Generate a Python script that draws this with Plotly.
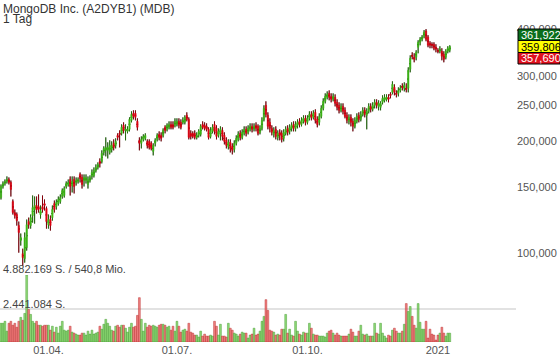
import pandas as pd
import plotly.graph_objects as go

# ---------------- data (EUR, daily, 27.02.2020 - 11.01.2021) ----------------
opens = [
    140.8,150.8,153.6,155.6,157.5,154.6,137.3,128.3,126.7,118.3,
    107.8,99.4,96.4,103.2,121.3,118.3,125.9,130.7,134.0,133.1,
    126.7,133.1,135.6,131.5,119.0,122.8,124.3,135.6,133.1,135.6,
    137.3,141.7,142.6,150.8,152.7,157.5,151.7,157.5,154.6,155.6,
    162.5,159.5,156.5,156.5,152.7,156.5,160.5,161.5,166.6,169.7,
    176.2,176.2,186.3,188.7,188.7,186.3,189.8,197.1,194.6,207.1,
    209.7,209.7,220.4,213.6,212.3,215.0,227.3,237.4,237.4,225.9,
    200.8,197.1,202.0,203.3,199.5,199.5,197.1,187.5,197.1,202.0,
    208.4,207.1,207.1,217.7,215.0,217.7,221.7,221.7,220.4,221.7,
    225.9,224.5,224.5,224.5,234.5,228.7,209.7,209.7,209.7,204.5,
    207.1,208.4,221.7,220.4,219.0,215.0,205.8,212.3,221.7,216.3,
    207.1,209.7,213.6,207.1,200.8,193.4,198.3,193.4,189.8,197.1,
    202.0,209.7,204.5,209.7,215.0,211.0,215.0,219.0,215.0,220.4,
    219.0,211.0,216.3,228.7,249.5,234.5,224.5,216.3,208.4,215.0,
    204.5,211.0,209.7,203.3,209.7,216.3,212.3,216.3,221.7,216.3,
    220.4,225.9,221.7,225.9,230.2,224.5,230.2,235.9,231.6,238.9,
    228.7,224.5,233.0,244.9,255.8,262.2,268.8,263.8,259.0,262.2,
    254.2,249.5,241.9,247.9,241.9,234.5,225.9,231.6,225.9,219.0,
    225.9,234.5,228.7,235.9,241.9,234.5,240.4,247.9,243.4,249.5,
    254.2,247.9,246.4,254.2,257.4,259.0,262.2,267.1,270.5,279.0,
    268.8,268.8,273.8,280.7,277.3,277.3,277.3,312.0,340.4,336.2,
    336.2,357.8,369.0,376.0,383.0,395.5,380.9,366.8,364.5,364.5,
    357.8,351.2,349.0,349.0,342.5,336.2,349.0,351.2,
]
highs = [
    152.7,155.6,157.5,160.5,159.5,156.5,139.1,130.7,128.3,121.3,
    112.6,102.5,113.3,122.8,124.3,126.7,142.6,141.7,141.7,143.5,
    134.0,142.6,139.1,133.1,126.7,125.9,134.0,138.2,139.1,141.7,
    143.5,148.9,150.8,155.6,157.5,160.5,160.5,160.5,159.5,159.5,
    164.5,162.5,162.5,162.5,160.5,161.5,167.6,169.7,172.9,175.1,
    179.5,188.7,193.4,204.5,198.3,200.8,199.5,202.0,203.3,209.7,
    213.6,221.7,224.5,221.7,219.0,231.6,240.4,241.9,241.9,230.2,
    204.5,205.8,208.4,209.7,202.0,202.0,199.5,197.1,203.3,209.7,
    212.3,211.0,216.3,220.4,223.1,225.9,225.9,225.9,230.2,230.2,
    230.2,228.7,231.6,234.5,238.9,231.6,213.6,212.3,213.6,211.0,
    215.0,221.7,225.9,224.5,223.1,217.7,217.7,221.7,225.9,220.4,
    216.3,219.0,217.7,211.0,204.5,202.0,202.0,197.1,200.8,207.1,
    212.3,213.6,215.0,219.0,219.0,220.4,223.1,223.1,223.1,224.5,
    221.7,220.4,231.6,249.5,255.8,238.9,230.2,220.4,217.7,219.0,
    213.6,215.0,213.6,215.0,219.0,220.4,221.7,224.5,225.9,225.9,
    228.7,230.2,231.6,234.5,234.5,234.5,240.4,240.4,241.9,243.4,
    233.0,237.4,249.5,260.6,268.8,272.1,273.8,268.8,268.8,267.1,
    259.0,254.2,252.6,252.6,246.4,238.9,235.9,235.9,230.2,231.6,
    237.4,238.9,240.4,246.4,246.4,244.9,252.6,252.6,254.2,259.0,
    259.0,257.4,255.8,265.5,267.1,267.1,267.1,270.5,289.6,284.2,
    273.8,279.0,282.5,286.0,287.8,286.0,315.9,340.4,346.8,344.7,
    351.2,373.7,380.9,385.7,398.0,400.4,385.7,371.4,369.0,369.0,
    364.5,355.6,360.0,355.6,349.0,353.4,360.0,362.2,
]
lows = [
    139.1,148.9,151.7,153.6,152.7,141.7,126.7,123.6,118.3,100.0,
    104.5,92.2,94.0,101.3,116.1,116.1,120.5,119.8,127.5,128.3,
    123.6,128.3,129.9,116.1,116.1,114.7,122.0,128.3,130.7,134.0,
    135.6,139.9,140.8,148.9,150.8,142.6,145.3,144.4,151.7,153.6,
    154.6,148.9,150.8,153.6,148.9,154.6,157.5,159.5,164.5,167.6,
    169.7,174.0,182.9,181.8,179.5,184.0,186.3,188.7,191.0,200.8,
    192.2,207.1,209.7,200.8,209.7,212.3,224.5,228.7,227.3,213.6,
    188.7,191.0,199.5,200.8,191.0,189.8,188.7,182.9,193.4,199.5,
    200.8,199.5,204.5,209.7,212.3,215.0,215.0,215.0,217.7,219.0,
    216.3,215.0,221.7,221.7,225.9,202.0,202.0,203.3,202.0,202.0,
    204.5,205.8,215.0,213.6,212.3,202.0,203.3,209.7,208.4,202.0,
    204.5,200.8,200.8,195.8,191.0,189.8,186.3,184.0,186.3,194.6,
    199.5,200.8,202.0,207.1,205.8,208.4,212.3,211.0,212.3,212.3,
    207.1,208.4,213.6,225.9,231.6,215.0,211.0,207.1,204.5,202.0,
    200.8,200.8,198.3,199.5,207.1,207.1,208.4,212.3,212.3,212.3,
    216.3,217.7,219.0,223.1,220.4,221.7,227.3,227.3,228.7,223.1,
    217.7,220.4,230.2,241.9,252.6,259.0,257.4,254.2,255.8,247.9,
    241.9,237.4,238.9,235.9,230.2,223.1,221.7,219.0,212.3,216.3,
    223.1,224.5,225.9,233.0,231.6,215.0,237.4,238.9,240.4,244.9,
    244.9,241.9,241.9,251.0,254.2,255.8,254.2,260.6,267.1,265.5,
    262.2,263.8,270.5,273.8,272.1,270.5,270.5,306.3,332.0,325.9,
    330.0,344.7,362.2,371.4,378.5,371.4,357.8,355.6,355.6,351.2,
    346.8,344.7,344.7,330.0,325.9,332.0,344.7,346.8,
]
closes = [
    150.8,153.6,155.6,157.5,154.6,148.0,128.3,125.9,122.0,113.3,
    109.8,97.0,109.8,119.0,119.0,124.3,132.3,134.0,130.7,130.7,
    129.9,130.7,134.0,121.3,122.8,118.3,130.7,130.7,136.5,139.1,
    140.8,147.1,148.9,153.6,154.6,150.8,155.6,150.8,156.5,157.5,
    158.5,152.7,159.5,159.5,157.5,159.5,164.5,166.6,169.7,172.9,
    174.0,185.2,191.0,192.2,192.2,194.6,194.6,192.2,199.5,204.5,
    208.4,217.7,213.6,215.0,215.0,228.7,235.9,233.0,231.6,217.7,
    197.1,202.0,205.8,207.1,194.6,192.2,191.0,194.6,200.8,207.1,
    204.5,203.3,213.6,213.6,220.4,221.7,217.7,217.7,225.9,225.9,
    220.4,217.7,227.3,231.6,228.7,204.5,205.8,205.8,204.5,207.1,
    212.3,219.0,217.7,216.3,215.0,204.5,213.6,217.7,212.3,205.8,
    212.3,215.0,205.8,199.5,194.6,198.3,191.0,188.7,197.1,203.3,
    208.4,204.5,211.0,215.0,209.7,216.3,219.0,215.0,219.0,216.3,
    209.7,216.3,227.3,244.9,235.9,219.0,216.3,211.0,213.6,205.8,
    209.7,207.1,202.0,211.0,215.0,211.0,217.7,220.4,216.3,221.7,
    224.5,221.7,227.3,230.2,224.5,230.2,235.9,231.6,237.4,227.3,
    221.7,233.0,244.9,255.8,263.8,267.1,262.2,259.0,263.8,252.6,
    246.4,241.9,247.9,240.4,233.0,227.3,231.6,224.5,219.0,227.3,
    233.0,228.7,235.9,241.9,235.9,240.4,247.9,243.4,249.5,254.2,
    249.5,252.6,252.6,260.6,262.2,262.2,259.0,265.5,284.2,270.5,
    267.1,273.8,277.3,279.0,282.5,275.5,310.1,334.1,338.3,332.0,
    346.8,369.0,376.0,380.9,393.0,376.0,362.2,362.2,362.2,355.6,
    353.4,349.0,353.4,338.3,332.0,349.0,355.6,359.806,
]
# volume in thousands of shares
volume_k = [
    1364,1364,1508,790,1364,1508,1221,1364,1077,1508,
    1795,1580,2082,4882,2369,2010,1508,1364,1508,1221,
    1221,1149,1221,1221,1221,862,1149,718,1077,646,
    1149,1508,862,790,862,1149,718,646,574,503,
    503,646,646,503,790,574,862,574,646,718,
    1149,933,1292,1651,1364,1149,862,790,1149,1221,
    1077,1221,1221,1005,718,1077,1364,1077,1149,1939,
    3231,1651,790,1364,1077,1221,1149,1221,1149,1077,
    1221,1292,1292,1221,1077,1149,862,1149,790,1508,
    1149,718,862,933,790,1364,718,646,503,503,
    359,790,431,574,431,431,503,431,1508,1149,
    503,1292,431,431,359,1364,1005,862,646,574,
    431,574,718,646,646,287,503,574,1005,503,
    574,790,1508,1867,3087,2298,862,790,718,503,
    574,503,933,933,2010,646,933,503,431,1508,
    790,574,503,718,646,646,1364,1005,574,503,
    503,431,431,431,359,646,790,862,646,503,
    646,503,431,431,431,431,574,933,718,431,
    431,790,1221,574,503,574,431,431,431,1364,
    646,574,1364,646,431,287,503,431,862,1005,
    790,646,646,790,1292,2800,2226,2585,1867,1221,
    1005,2800,1436,933,933,1508,287,933,574,503,
    144,503,646,1077,646,431,646,646,
]
dates = pd.bdate_range("2020-02-27", "2021-01-11") + pd.Timedelta(hours=12)
n = min(len(dates), len(opens))
dates = dates[:n]

tick_dates = ["2020-04-01 12:00", "2020-07-01 12:00", "2020-10-01 12:00", "2021-01-01 12:00"]
tick_text = ["01.04.", "01.07.", "01.10.", "2021"]
price_ticks = [100, 150, 200, 250, 300, 400]
vol_max_k = 4882.169
vol_half_k = 2441.084
badge_values = ["361,922", "359,806", "357,690"]

title = "MongoDB Inc. (A2DYB1) (MDB)"
subtitle = "1 Tag"
vol_label_top = "4.882.169 S. / 540,8 Mio."
vol_label_mid = "2.441.084 S."

# ---------------- figure ----------------
GREEN = "#3cb815"
RED = "#e00010"
O, Hh, L, C = opens[:n], highs[:n], lows[:n], closes[:n]
up = [c >= o for o, c in zip(O, C)]
bar_fill = ["rgba(115,208,85,0.78)" if u else "rgba(236,100,100,0.8)" for u in up]
bar_line = ["rgba(60,150,40,0.9)" if u else "rgba(185,40,40,0.9)" for u in up]
mids = [(o + c) / 2 for o, c in zip(O, C)]

fig = go.Figure()
fig.add_trace(go.Bar(
    x=dates, y=volume_k[:n], yaxis="y2", xaxis="x",
    marker=dict(color=bar_fill, line=dict(color=bar_line, width=0.5)),
    showlegend=False, hoverinfo="skip",
))
# wicks (black), drawn first
fig.add_trace(go.Candlestick(
    x=dates, open=mids, high=Hh, low=L, close=mids,
    increasing=dict(fillcolor="#000000", line=dict(color="#000000", width=1)),
    decreasing=dict(fillcolor="#000000", line=dict(color="#000000", width=1)),
    whiskerwidth=0, showlegend=False, hoverinfo="skip",
))
# coloured bodies on top
fig.add_trace(go.Candlestick(
    x=dates, open=O, high=Hh, low=L, close=C,
    increasing=dict(fillcolor=GREEN, line=dict(color=GREEN, width=0.6)),
    decreasing=dict(fillcolor=RED, line=dict(color=RED, width=0.6)),
    whiskerwidth=0, showlegend=False, hoverinfo="skip",
))

Hp = 342.0  # plot area height in px
fig.update_layout(
    width=560, height=363,
    margin=dict(l=0, r=44, t=0, b=21),
    paper_bgcolor="white", plot_bgcolor="white",
    separators=",.",
    font=dict(family="Liberation Sans, Arial, sans-serif", size=11, color="#555555"),
    boxgap=0.05, bargap=0.08,
    showlegend=False,
    hovermode=False,
    xaxis=dict(
        type="date", anchor="y2",
        range=["2020-02-27 00:00", "2021-02-26 00:00"],
        rangebreaks=[dict(bounds=["sat", "mon"])],
        tickvals=tick_dates, ticktext=tick_text,
        showgrid=False, zeroline=False, showline=False, ticks="",
        tickfont=dict(size=11, color="#555555"),
        rangeslider=dict(visible=False),
    ),
    yaxis=dict(
        type="log", domain=[(Hp - 272) / Hp, 1], anchor="x", side="right",
        range=[1.94788, 2.68104],
        tickvals=price_ticks, tickformat=",.3f",
        showgrid=False, zeroline=False, showline=False, ticks="",
        tickfont=dict(size=11, color="#555555"),
    ),
    yaxis2=dict(
        domain=[0, (Hp - 275) / Hp], anchor="x", side="right",
        range=[0, vol_max_k],
        tickvals=[vol_half_k, vol_max_k], showticklabels=False,
        showgrid=True, gridcolor="#e2e2e2", gridwidth=2,
        zeroline=False, showline=False, ticks="",
    ),
)

annotations = [
    dict(text=title, x=0, y=1, xref="paper", yref="paper", xanchor="left", yanchor="top",
         xshift=1, yshift=0, showarrow=False, font=dict(size=12, color="#333333")),
    dict(text=subtitle, x=0, y=1, xref="paper", yref="paper", xanchor="left", yanchor="top",
         xshift=1, yshift=-10, showarrow=False, font=dict(size=12, color="#333333")),
    dict(text=vol_label_top, x=0, y=(Hp - 269) / Hp, xref="paper", yref="paper",
         xanchor="left", yanchor="middle", xshift=1, showarrow=False,
         font=dict(size=11, color="#444444")),
    dict(text=vol_label_mid, x=0, y=(Hp - 303.5) / Hp, xref="paper", yref="paper",
         xanchor="left", yanchor="middle", xshift=1, showarrow=False,
         font=dict(size=11, color="#444444")),
]
badge_bg = ["#0b6e1c", "#ffff00", "#e0101e"]
badge_fg = ["#ffffff", "#000000", "#ffffff"]
badge_top = [29, 40.5, 52.5]
badge_bot = [40.5, 52.5, 64]
shapes = []
for val, bg, fg, t0, t1 in zip(badge_values, badge_bg, badge_fg, badge_top, badge_bot):
    shapes.append(dict(
        type="rect", xref="paper", yref="paper",
        xsizemode="pixel", xanchor=1, x0=2, x1=44,
        ysizemode="pixel", yanchor=1, y0=-t0, y1=-t1,
        fillcolor=bg, line=dict(color="#000000", width=1), layer="above",
    ))
    annotations.append(dict(
        text=val, x=1, y=1, xref="paper", yref="paper", xanchor="left", yanchor="middle",
        xshift=3, yshift=-(t0 + t1) / 2, showarrow=False,
        font=dict(size=11, color=fg),
    ))
fig.update_layout(annotations=annotations, shapes=shapes)

fig.write_html("out.html", config={"displayModeBar": False, "staticPlot": True},
               post_script="document.body.style.margin='0px';")
